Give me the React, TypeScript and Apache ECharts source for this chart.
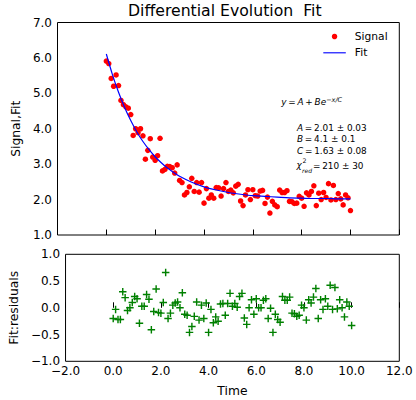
import React, { useEffect, useRef } from "react";
import * as echarts from "echarts";

const xs = [
  0.0, 0.1, 0.2, 0.3, 0.4, 0.5, 0.6, 0.7, 0.8, 0.9,
  1.0, 1.1, 1.2, 1.3, 1.4, 1.5, 1.6, 1.7, 1.8, 1.9,
  2.0, 2.1, 2.2, 2.3, 2.4, 2.5, 2.6, 2.7, 2.8, 2.9,
  3.0, 3.1, 3.2, 3.3, 3.4, 3.5, 3.6, 3.7, 3.8, 3.9,
  4.0, 4.1, 4.2, 4.3, 4.4, 4.5, 4.6, 4.7, 4.8, 4.9,
  5.0, 5.1, 5.2, 5.3, 5.4, 5.5, 5.6, 5.7, 5.8, 5.9,
  6.0, 6.1, 6.2, 6.3, 6.4, 6.5, 6.6, 6.7, 6.8, 6.9,
  7.0, 7.1, 7.2, 7.3, 7.4, 7.5, 7.6, 7.7, 7.8, 7.9,
  8.0, 8.1, 8.2, 8.3, 8.4, 8.5, 8.6, 8.7, 8.8, 8.9,
  9.0, 9.1, 9.2, 9.3, 9.4, 9.5, 9.6, 9.7, 9.8, 9.9,
  10.0,
];

const signal = [
  5.91, 5.84, 5.42, 5.2, 5.52, 5.22, 4.8, 4.68, 4.62, 4.58,
  4.4, 3.81, 4.0, 3.89, 4.0, 3.8, 3.14, 3.39, 3.72, 3.2,
  3.11, 3.24, 3.73, 2.81, 2.85, 2.94, 2.93, 2.9, 2.75, 2.98,
  2.54, 2.48, 2.13, 2.2, 2.36, 2.6, 2.23, 2.48, 2.21, 2.48,
  1.9, 2.31, 2.04, 2.13, 2.04, 2.34, 2.33, 2.1, 2.31, 2.48,
  2.23, 2.27, 2.19, 2.38, 2.43, 1.96, 1.83, 2.13, 2.28, 2.0,
  2.28, 2.11, 2.1, 2.24, 2.26, 1.89, 2.07, 1.62, 1.95, 1.85,
  1.8, 2.27, 2.2, 2.2, 2.25, 1.95, 1.94, 1.89, 1.9, 2.09,
  2.04, 1.81, 2.19, 2.13, 2.23, 2.39, 1.83, 2.18, 2.0, 2.2,
  2.06, 2.45, 1.99, 2.4, 2.0, 2.17, 2.02, 1.85, 2.13, 2.05,
  1.69,
];

const residuals = [
  -0.2, -0.03, -0.22, -0.22, 0.3, 0.19, -0.05, 0.0, 0.1, 0.21,
  0.17, -0.29, 0.03, 0.03, 0.25, 0.16, -0.41, -0.07, 0.35, -0.09,
  -0.1, 0.1, 0.66, -0.2, -0.1, 0.05, 0.09, 0.11, 0.0, 0.28,
  -0.12, -0.14, -0.46, -0.35, -0.16, 0.11, -0.23, 0.05, -0.2, 0.09,
  -0.46, -0.03, -0.28, -0.17, -0.25, 0.07, 0.08, -0.14, 0.08, 0.27,
  0.03, 0.08, 0.01, 0.21, 0.27, -0.19, -0.31, 0.0, 0.15, -0.12,
  0.17, 0.0, 0.0, 0.14, 0.17, -0.2, -0.01, -0.46, -0.12, -0.22,
  -0.27, 0.21, 0.14, 0.14, 0.2, -0.1, -0.11, -0.16, -0.14, 0.05,
  0.0, -0.23, 0.15, 0.09, 0.2, 0.36, -0.2, 0.15, -0.03, 0.17,
  0.03, 0.42, -0.03, 0.38, -0.02, 0.15, 0.0, -0.17, 0.11, 0.03,
  -0.33,
];

const fitX = [0, 0.25, 0.5, 0.75, 1, 1.25, 1.5, 1.75, 2, 2.25, 2.5, 2.75, 3, 3.5, 4, 4.5, 5, 5.5, 6, 6.5, 7, 7.5, 8, 8.5, 9, 9.5, 10];
const fitY = [6.11, 5.53, 5.03, 4.6, 4.23, 3.91, 3.64, 3.41, 3.21, 3.04, 2.89, 2.77, 2.66, 2.49, 2.36, 2.27, 2.2, 2.15, 2.11, 2.09, 2.07, 2.05, 2.04, 2.03, 2.03, 2.02, 2.02];

const paramLines = [
  { name: "A", value: "2.01", err: "0.03" },
  { name: "B", value: "4.1", err: "0.1" },
  { name: "C", value: "1.63", err: "0.08" },
];
const chiValue = "210";
const chiErr = "30";

const FONT = "DejaVu Sans";
const TS = "\u2009";

const fmt = (v: number) => (v < 0 ? "\u2212" : "") + Math.abs(v).toFixed(1);

export default function App() {
  const ref = useRef<HTMLDivElement>(null);
  useEffect(() => {
    if (!ref.current) return;
    const chart = echarts.init(ref.current, undefined, { renderer: "svg" });
    const plus =
      "path://M4.05,0 H5.95 V4.05 H10 V5.95 H5.95 V10 H4.05 V5.95 H0 V4.05 H4.05 Z";
    const annFont = 8.9;
    const rich = {
      i: { fontFamily: FONT, fontSize: annFont, fontStyle: "italic", color: "#000" },
      t: { fontFamily: FONT, fontSize: annFont, color: "#000" },
      sup: { fontFamily: FONT, fontSize: 6.5, fontStyle: "italic", verticalAlign: "top", padding: [0, 0, 5, 0], color: "#000" },
    };
    const paramTexts = paramLines.map((p, k) => ({
      type: "text",
      x: 297,
      y: 127.7 + k * 11.6,
      style: {
        text: `{i|${p.name}}{t|${TS}=${TS}${p.value} ± ${p.err}}`,
        rich,
        verticalAlign: "middle",
        fontFamily: FONT,
        fontSize: annFont,
        fill: "#000",
      },
    }));
    const option: any = {
      animation: false,
      backgroundColor: "#fff",
      textStyle: { fontFamily: FONT },
      title: {
        text: "Differential Evolution  Fit",
        left: 128,
        top: 2,
        padding: 0,
        textStyle: { fontFamily: FONT, fontSize: 15.7, fontWeight: "normal", color: "#000" },
      },
      legend: {
        data: [
          { name: "Signal", icon: "circle" },
          { name: "Fit", icon: "path://M0,0 H200 V10 H0 Z" },
        ],
        orient: "vertical",
        left: 323.3,
        top: 31,
        padding: 0,
        itemWidth: 22.5,
        itemHeight: 5.5,
        itemGap: 5.3,
        textStyle: { fontFamily: FONT, fontSize: 10.7, color: "#000", padding: [0, 0, 0, 4] },
      },
      grid: [
        { left: 57.5, right: 16.7, top: 22.5, height: 212.5, show: true, borderColor: "#000", borderWidth: 1, backgroundColor: "transparent" },
        { left: 57.5, right: 16.7, top: 254.3, height: 107, show: true, borderColor: "#000", borderWidth: 1, backgroundColor: "transparent" },
      ],
      xAxis: [
        {
          gridIndex: 0, type: "value", min: -2, max: 12, interval: 2,
          axisLine: { show: false },
          axisTick: { show: true, inside: true, length: 5.5, lineStyle: { color: "#000" } },
          axisLabel: { show: false },
          splitLine: { show: false },
        },
        {
          gridIndex: 1, type: "value", min: -2, max: 12, interval: 2,
          name: "Time", nameLocation: "middle", nameGap: 23.5,
          nameTextStyle: { fontFamily: FONT, fontSize: 12.3, color: "#000" },
          axisLine: { show: false },
          axisTick: { show: true, inside: true, length: 5.5, lineStyle: { color: "#000" } },
          axisLabel: { margin: 5.3, lineHeight: 9, fontFamily: FONT, fontSize: 12, color: "#000", formatter: fmt },
          splitLine: { show: false },
        },
      ],
      yAxis: [
        {
          gridIndex: 0, type: "value", min: 1, max: 7, interval: 1,
          name: "Signal,Fit", nameLocation: "middle", nameGap: 30.5,
          nameTextStyle: { fontFamily: FONT, fontSize: 12.3, color: "#000" },
          axisLine: { show: false },
          axisTick: { show: false },
          axisLabel: { margin: 5.5, lineHeight: 9, fontFamily: FONT, fontSize: 12, color: "#000", formatter: fmt },
          splitLine: { show: false },
        },
        {
          gridIndex: 1, type: "value", min: -1, max: 1, interval: 0.5,
          name: "Fit:residuals", nameLocation: "middle", nameGap: 41.3,
          nameTextStyle: { fontFamily: FONT, fontSize: 12.3, color: "#000" },
          axisLine: { show: false },
          axisTick: { show: false },
          axisLabel: { margin: 5.5, lineHeight: 9, fontFamily: FONT, fontSize: 12, color: "#000", formatter: fmt },
          splitLine: { show: false },
        },
      ],
      series: [
        {
          name: "Signal", type: "scatter", xAxisIndex: 0, yAxisIndex: 0,
          data: xs.map((x, i) => [x, signal[i]]),
          symbol: "circle", symbolSize: 5.5,
          itemStyle: { color: "#ff0000", opacity: 1 },
        },
        {
          name: "Fit", type: "line", xAxisIndex: 0, yAxisIndex: 0,
          data: fitX.map((x, i) => [x, fitY[i]]),
          symbol: "none", smooth: 0.3,
          lineStyle: { color: "#0000ff", width: 1.2 },
          itemStyle: { color: "#0000ff" },
        },
        {
          name: "Residuals", type: "scatter", xAxisIndex: 1, yAxisIndex: 1,
          data: xs.map((x, i) => [x, residuals[i]]),
          symbol: plus, symbolSize: 7.5,
          itemStyle: { color: "#008000", opacity: 1 },
        },
      ],
      graphic: [
        {
          type: "text",
          x: 281.3,
          y: 102,
          style: {
            text: `{i|y}{t|${TS}=${TS}}{i|A}{t|${TS}+${TS}}{i|Be}{sup|\u2212x/C}`,
            rich,
            verticalAlign: "middle",
            fontFamily: FONT,
            fontSize: annFont,
            fill: "#000",
          },
        },
        ...paramTexts,
        {
          type: "text", x: 296.5, y: 165,
          style: { text: "χ", fontFamily: FONT, fontStyle: "italic", fontSize: annFont, lineHeight: 5, fill: "#000", verticalAlign: "middle" },
        },
        {
          type: "text", x: 302.5, y: 160.5,
          style: { text: "2", fontFamily: FONT, fontSize: 6.3, lineHeight: 4, fill: "#000", verticalAlign: "middle" },
        },
        {
          type: "text", x: 302, y: 170,
          style: { text: "red", fontFamily: FONT, fontStyle: "italic", fontSize: 6, lineHeight: 4.5, fill: "#000", verticalAlign: "middle" },
        },
        {
          type: "text", x: 313, y: 165.7,
          style: { text: `=${TS}${chiValue} ± ${chiErr}`, fontFamily: FONT, fontSize: annFont, fill: "#000", verticalAlign: "middle" },
        },
      ],
    };
    chart.setOption(option);
    return () => chart.dispose();
  }, []);
  return (
    <div
      ref={ref}
      style={{ position: "absolute", left: 0, top: 0, width: 416, height: 400 }}
    />
  );
}
